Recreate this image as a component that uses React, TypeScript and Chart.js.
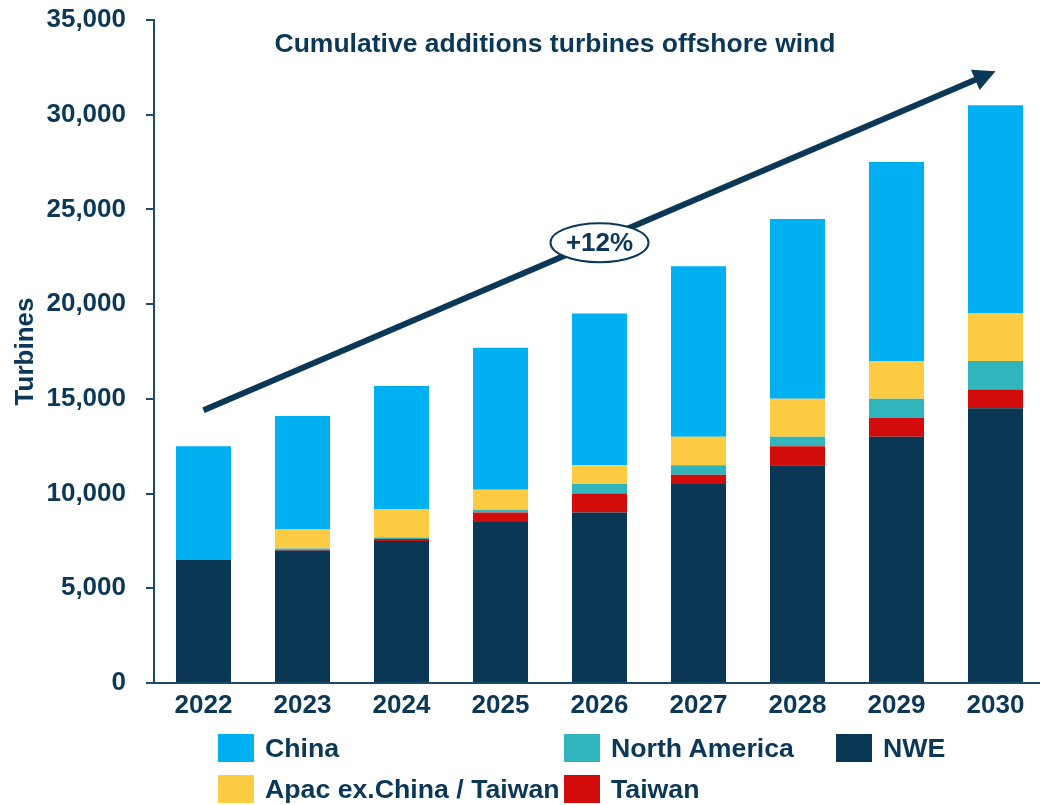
import React, { useEffect, useRef } from "react";
import { Chart, registerables } from "chart.js";

Chart.register(...registerables);

const categories = ["2022", "2023", "2024", "2025", "2026", "2027", "2028", "2029", "2030"];
const nwe = [6500, 7000, 7500, 8500, 9000, 10500, 11500, 13000, 14500];
const taiwan = [0, 40, 100, 500, 1000, 500, 1000, 1000, 1000];
const northAmerica = [0, 60, 80, 150, 500, 500, 500, 1000, 1500];
const apac = [0, 1000, 1500, 1050, 1000, 1500, 2000, 2000, 2500];
const china = [6000, 6000, 6500, 7500, 8000, 9000, 9500, 10500, 11000];

const yTicks = [0, 5000, 10000, 15000, 20000, 25000, 30000, 35000];
const chartTitle = "Cumulative additions turbines offshore wind";
const yTitle = "Turbines";
const growthLabel = "+12%";
const arrowStartValue = 14400;
const arrowEndValue = 32300;

const NAVY = "#0b3856";
const AXIS = "#1d4a68";
const FONT = "'Liberation Sans', Arial, sans-serif";

const colors = {
  nwe: "#0a3754",
  taiwan: "#d20c0b",
  northAmerica: "#31b5bd",
  apac: "#fdcc43",
  china: "#00b0f0",
};

const legendItems = [
  { label: "China", color: colors.china, left: 218, top: 734 },
  { label: "North America", color: colors.northAmerica, left: 564, top: 734 },
  { label: "NWE", color: colors.nwe, left: 836, top: 734 },
  { label: "Apac ex.China / Taiwan", color: colors.apac, left: 218, top: 775 },
  { label: "Taiwan", color: colors.taiwan, left: 564, top: 775 },
];

const overlayPlugin = {
  id: "overlay",
  afterDatasetsDraw(chart: any) {
    const { ctx, chartArea } = chart;
    const xs = chart.scales.x;
    const ys = chart.scales.y;
    ctx.save();
    // title
    ctx.fillStyle = NAVY;
    ctx.font = `bold 26.5px ${FONT}`;
    ctx.textAlign = "center";
    ctx.textBaseline = "middle";
    ctx.fillText(chartTitle, chartArea.left + 401, 45);

    // arrow
    const x0 = xs.getPixelForValue(0);
    const y0 = ys.getPixelForValue(arrowStartValue);
    const x1 = xs.getPixelForValue(categories.length - 1);
    const y1 = ys.getPixelForValue(arrowEndValue);
    const ang = Math.atan2(y1 - y0, x1 - x0);
    const headLen = 22;
    const headHalf = 11;
    const bx = x1 - headLen * Math.cos(ang);
    const by = y1 - headLen * Math.sin(ang);
    ctx.strokeStyle = NAVY;
    ctx.lineWidth = 6;
    ctx.beginPath();
    ctx.moveTo(x0, y0);
    ctx.lineTo(bx + 2 * Math.cos(ang), by + 2 * Math.sin(ang));
    ctx.stroke();
    ctx.fillStyle = NAVY;
    ctx.beginPath();
    ctx.moveTo(x1, y1);
    ctx.lineTo(bx + headHalf * Math.sin(ang), by - headHalf * Math.cos(ang));
    ctx.lineTo(bx - headHalf * Math.sin(ang), by + headHalf * Math.cos(ang));
    ctx.closePath();
    ctx.fill();

    // ellipse label
    const mx = (x0 + x1) / 2;
    const my = (y0 + y1) / 2 + 2;
    ctx.beginPath();
    ctx.ellipse(mx, my, 49, 19.5, 0, 0, Math.PI * 2);
    ctx.fillStyle = "#ffffff";
    ctx.fill();
    ctx.lineWidth = 2;
    ctx.strokeStyle = NAVY;
    ctx.stroke();
    ctx.fillStyle = NAVY;
    ctx.font = `bold 26px ${FONT}`;
    ctx.fillText(growthLabel, mx, my + 1);
    ctx.restore();
  },
};

export default function App() {
  const ref = useRef<HTMLCanvasElement | null>(null);

  useEffect(() => {
    if (!ref.current) return;
    const chart = new Chart(ref.current, {
      type: "bar",
      data: {
        labels: categories,
        datasets: [
          { label: "NWE", data: nwe, backgroundColor: colors.nwe },
          { label: "Taiwan", data: taiwan, backgroundColor: colors.taiwan },
          { label: "North America", data: northAmerica, backgroundColor: colors.northAmerica },
          { label: "Apac ex.China / Taiwan", data: apac, backgroundColor: colors.apac },
          { label: "China", data: china, backgroundColor: colors.china },
        ],
      },
      options: {
        animation: false,
        responsive: false,
        maintainAspectRatio: false,
        datasets: {
          bar: { categoryPercentage: 1, barPercentage: 0.556, borderWidth: 0 },
        },
        layout: { padding: { left: 0, right: 5, top: 20, bottom: 82 } },
        plugins: {
          legend: { display: false },
          tooltip: { enabled: false },
          title: { display: false },
        },
        scales: {
          x: {
            stacked: true,
            grid: { display: false, drawTicks: false },
            border: { display: true, color: AXIS, width: 2 },
            ticks: {
              color: NAVY,
              padding: 7,
              font: { family: FONT, size: 26, weight: "bold" },
            },
            afterFit: (s: any) => {
              s.height = 40;
              s.paddingLeft = 0;
              s.paddingRight = 0;
            },
          },
          y: {
            stacked: true,
            min: 0,
            max: 35000,
            afterBuildTicks: (s: any) => {
              s.ticks = yTicks.map((v) => ({ value: v }));
            },
            grid: {
              display: true,
              drawOnChartArea: false,
              drawTicks: true,
              tickLength: 8,
              color: AXIS,
              lineWidth: 2,
            },
            border: { display: true, color: AXIS, width: 2 },
            ticks: {
              color: NAVY,
              padding: 20,
              font: { family: FONT, size: 26, weight: "bold" },
              callback: (v: any) => Number(v).toLocaleString("en-US"),
            },
            title: {
              display: true,
              text: yTitle,
              color: NAVY,
              padding: { top: 10, bottom: 0 },
              font: { family: FONT, size: 26, weight: "bold" },
            },
            afterFit: (s: any) => {
              s.width = 154;
              s.paddingTop = 0;
              s.paddingBottom = 0;
            },
          },
        },
      },
      plugins: [overlayPlugin],
    });
    return () => chart.destroy();
  }, []);

  return (
    <div
      style={{
        position: "fixed",
        left: 0,
        top: 0,
        width: 1050,
        height: 805,
        overflow: "hidden",
        background: "#ffffff",
      }}
    >
      <canvas ref={ref} width={1050} height={805} style={{ display: "block" }} />
      {legendItems.map((it) => (
        <div
          key={it.label}
          style={{
            position: "absolute",
            left: it.left,
            top: it.top,
            height: 28,
            display: "flex",
            alignItems: "center",
            whiteSpace: "nowrap",
          }}
        >
          <div style={{ width: 36, height: 28, background: it.color }} />
          <span
            style={{
              marginLeft: 47 - 36,
              fontFamily: FONT,
              fontWeight: "bold",
              fontSize: 26.7,
              color: NAVY,
              lineHeight: "28px",
            }}
          >
            {it.label}
          </span>
        </div>
      ))}
    </div>
  );
}
